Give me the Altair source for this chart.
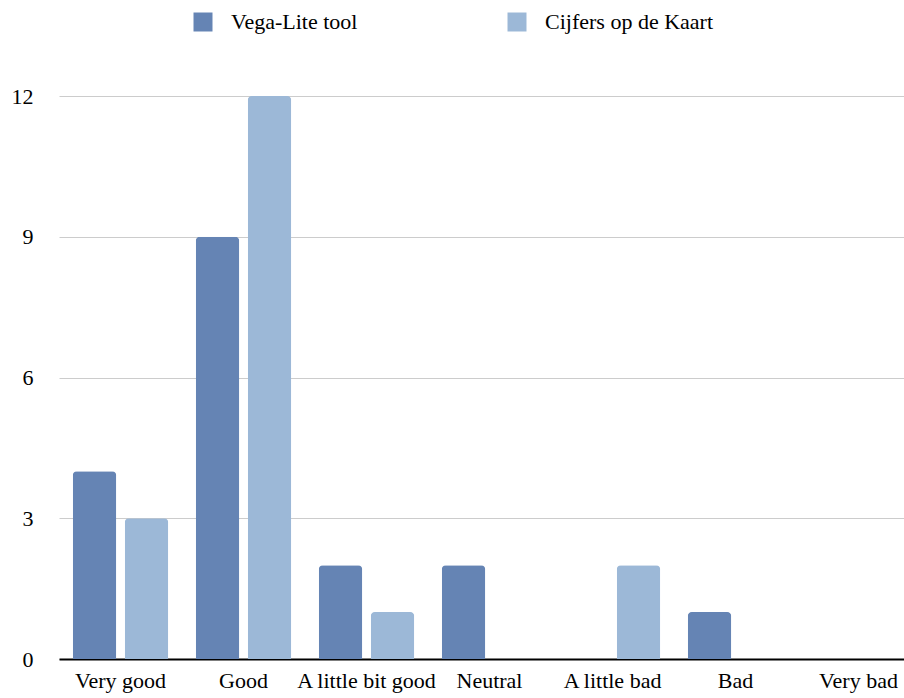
import altair as alt
import pandas as pd

# Survey answers per rating, counted for each tool
categories = ["Very good", "Good", "A little bit good", "Neutral", "A little bad", "Bad", "Very bad"]
vega_lite_tool = [4, 9, 2, 2, 0, 1, 0]
cijfers_op_de_kaart = [3, 12, 1, 0, 2, 0, 0]
series = ["Vega-Lite tool", "Cijfers op de Kaart"]
colors = ["#6584b4", "#9cb8d7"]
y_ticks = [0, 3, 6, 9, 12]

rows = []
for name, values in zip(series, [vega_lite_tool, cijfers_op_de_kaart]):
    for cat, val in zip(categories, values):
        rows.append({"category": cat, "series": name, "count": val})
df = pd.DataFrame(rows)

FONT = "Liberation Serif"

bars = alt.Chart(df).mark_bar(cornerRadiusTopLeft=4, cornerRadiusTopRight=4).encode(
    x=alt.X(
        "category:N",
        sort=categories,
        scale=alt.Scale(range=[0, 861], paddingInner=0.2236, paddingOuter=0.1118),
        axis=alt.Axis(
            title=None, labelAngle=0, ticks=False, grid=False,
            domainColor="black", domainWidth=2,
            labelPadding=11, labelFontSize=22, labelFont=FONT, labelColor="black",
            labelLimit=0, labelOverlap=False,
        ),
    ),
    xOffset=alt.XOffset(
        "series:N", sort=series,
        scale=alt.Scale(paddingInner=0.163, paddingOuter=0),
    ),
    y=alt.Y(
        "count:Q",
        scale=alt.Scale(domain=[0, 12], nice=False),
        axis=alt.Axis(
            title=None, values=y_ticks, ticks=False, domain=False,
            gridColor="#cccccc", gridWidth=1,
            labelPadding=26, labelFontSize=22, labelFont=FONT, labelColor="black",
        ),
    ),
    color=alt.Color(
        "series:N",
        scale=alt.Scale(domain=series, range=colors),
        legend=alt.Legend(
            title=None, orient="none", legendX=133, legendY=-85,
            direction="horizontal", symbolType="square", symbolSize=361,
            symbolStrokeWidth=0, symbolOpacity=1,
            labelFontSize=22, labelFont=FONT, labelColor="black",
            labelOffset=17, labelLimit=0, columnPadding=148, padding=0,
        ),
    ),
)

chart = bars.properties(
    width=845,
    height=563,
    autosize=alt.AutoSizeParams(type="none"),
    padding={"left": 59, "top": 96, "right": 0, "bottom": 39},
).configure_view(stroke=None)

chart.save("out.html", embed_options={"renderer": "svg", "actions": False})
